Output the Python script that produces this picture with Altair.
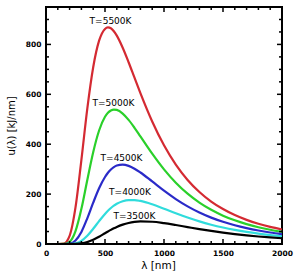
import altair as alt
import pandas as pd

wavelength = [0, 100, 150, 200, 250, 300, 350, 400, 450, 500, 525, 550, 575, 600, 650, 700,
              750, 800, 900, 1000, 1100, 1200, 1300, 1400, 1500, 1600, 1700, 1800, 1900, 2000]
u_5500 = [0, 0, 1.8, 32.7, 146.6, 337.2, 542.6, 708.7, 815.0, 862.2, 868.1, 864.8, 852.9, 835.1, 786.7, 728.6,
          666.5, 604.9, 491.2, 395.6, 318.4, 256.9, 208.5, 170.2, 140.0, 115.9, 96.6, 81.0, 68.4, 58.1]
u_5000 = [0, 0, 0.3, 8.9, 51.5, 141.0, 256.8, 368.2, 455.0, 510.0, 526.1, 535.4, 539.0, 537.5, 522.9, 497.4,
          465.9, 431.4, 362.0, 299.1, 245.6, 201.6, 165.8, 137.0, 113.7, 94.9, 79.7, 67.3, 57.1, 48.8]
u_4500 = [0, 0, 0, 1.8, 14.3, 48.5, 103.0, 165.6, 223.4, 268.6, 285.6, 298.8, 308.3, 314.4, 318.3, 313.2,
          301.9, 286.7, 250.6, 213.8, 180.1, 150.9, 126.3, 105.8, 89.0, 75.0, 63.6, 54.1, 46.2, 39.7]
u_4000 = [0, 0, 0, 0.2, 2.9, 12.8, 32.9, 60.9, 91.9, 120.7, 133.2, 144.2, 153.5, 161.1, 171.5, 176.1,
          176.1, 172.6, 159.1, 141.4, 123.1, 105.9, 90.6, 77.4, 66.1, 56.5, 48.4, 41.6, 35.9, 31.1]
u_3500 = [0, 0, 0, 0, 0.4, 2.3, 7.6, 16.9, 29.3, 43.2, 50.0, 56.6, 62.7, 68.3, 77.6, 84.3,
          88.4, 90.3, 89.1, 83.6, 76.0, 67.8, 59.7, 52.3, 45.6, 39.7, 34.6, 30.1, 26.3, 23.0]

series_names = ["T=5500K", "T=5000K", "T=4500K", "T=4000K", "T=3500K"]
series_colors = ["#d42a32", "#2ad02a", "#2a2ac8", "#30dcdc", "#000000"]
label_x = [547, 572, 640, 712, 750]
label_y = [895, 567, 345, 208, 114]

x_major = [0, 500, 1000, 1500, 2000]
x_minor = [100, 200, 300, 400, 600, 700, 800, 900, 1100, 1200, 1300, 1400,
           1600, 1700, 1800, 1900]
y_major = [0, 200, 400, 600, 800]
y_minor = [50, 100, 150, 250, 300, 350, 450, 500, 550, 650, 700, 750, 850, 900]

W, H = 236, 237

rows = []
for name, vals in zip(series_names, [u_5500, u_5000, u_4500, u_4000, u_3500]):
    for lam, u in zip(wavelength, vals):
        rows.append({"lam": lam, "u": u, "T": name})
df = pd.DataFrame(rows)
labels_df = pd.DataFrame({"T": series_names, "lam": label_x, "u": label_y})

xscale = alt.Scale(domain=[0, 2000], nice=False, zero=False)
yscale = alt.Scale(domain=[0, 950], nice=False, zero=False)

FONT = "DejaVu Sans"

xaxis = alt.Axis(
    values=x_major, format="d", title="λ [nm]", ticks=False, tickSize=0, domain=False, grid=False,
    labelPadding=5, labelFont=FONT, labelFontWeight="bold", labelFontSize=7.5,
    labelFlush=False, labelOverlap=False, labelColor="black",
    titleFont=FONT, titleFontSize=10.5, titleFontWeight="normal", titlePadding=4,
    titleColor="black", titleX=112)
yaxis = alt.Axis(
    values=y_major, format="d", title="u(λ) [kJ/nm]", ticks=False, tickSize=0, domain=False, grid=False,
    labelPadding=5, labelFont=FONT, labelFontWeight="bold", labelFontSize=7.5,
    labelFlush=False, labelOverlap=False, labelColor="black",
    titleFont=FONT, titleFontSize=10, titleFontWeight="normal", titlePadding=9,
    titleColor="black")

X = alt.X("lam:Q", scale=xscale, axis=xaxis)
Y = alt.Y("u:Q", scale=yscale, axis=yaxis)

lines = alt.Chart(df).mark_line(strokeWidth=2.2, interpolate="monotone").encode(
    x=X, y=Y,
    color=alt.Color("T:N", scale=alt.Scale(domain=series_names, range=series_colors), legend=None),
    order=alt.Order("lam:Q"),
)

texts = alt.Chart(labels_df).mark_text(font=FONT, fontSize=9, color="black").encode(
    x=X, y=Y, text="T:N",
)

xmaj_df = pd.DataFrame({"lam": x_major})
xmin_df = pd.DataFrame({"lam": x_minor})
ymaj_df = pd.DataFrame({"u": y_major})
ymin_df = pd.DataFrame({"u": y_minor})


def xticks(d, length, width):
    base = alt.Chart(d).mark_rule(color="black", strokeWidth=width)
    bottom = base.encode(x=X, y=alt.value(H), y2=alt.value(H - length))
    top = base.encode(x=X, y=alt.value(0), y2=alt.value(length))
    return [bottom, top]


def yticks(d, length, width):
    base = alt.Chart(d).mark_rule(color="black", strokeWidth=width)
    left = base.encode(y=Y, x=alt.value(0), x2=alt.value(length))
    right = base.encode(y=Y, x=alt.value(W), x2=alt.value(W - length))
    return [left, right]


layers = [lines, texts]
layers += xticks(xmaj_df, 5, 1.5) + xticks(xmin_df, 3, 1.5)
layers += yticks(ymaj_df, 5, 1.5) + yticks(ymin_df, 3, 1.5)

chart = alt.layer(*layers).properties(
    width=W, height=H,
    autosize=alt.AutoSizeParams(type="none"),
    padding={"left": 46, "top": 7, "right": 18, "bottom": 33},
    background="white",
).configure_view(stroke="black", strokeWidth=2)

chart.save("out.html", embed_options={"renderer": "svg", "actions": False})
